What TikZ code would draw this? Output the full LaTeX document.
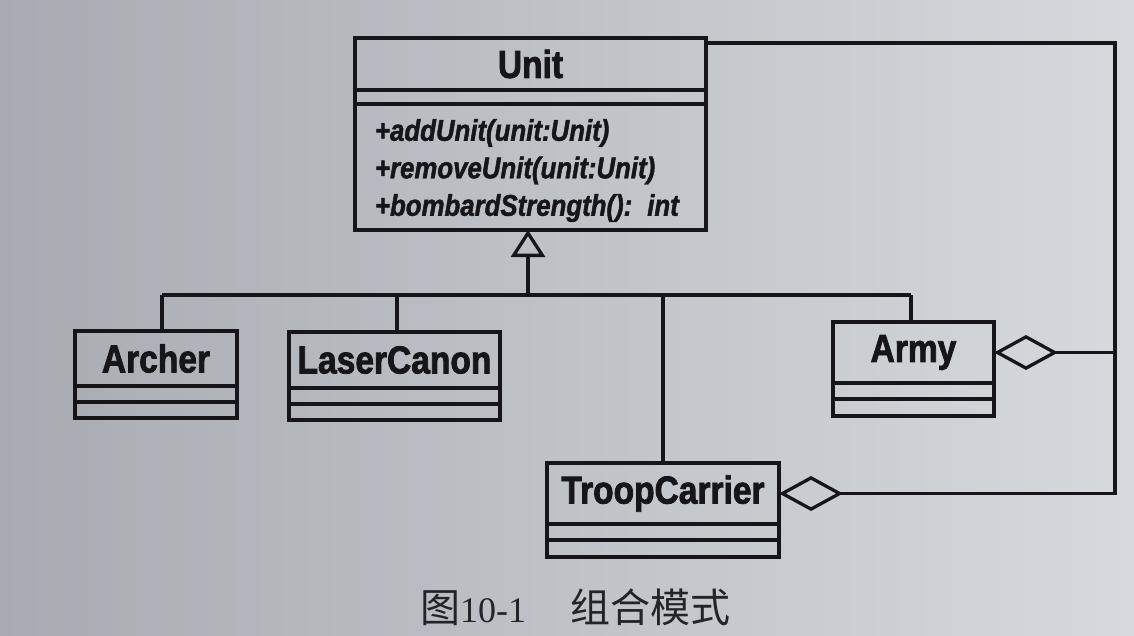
\documentclass[tikz,border=0pt]{standalone}
\usepackage{fontspec}
\usetikzlibrary{arrows.meta}
\newfontfamily\clsfont[FakeStretch=0.86, BoldFeatures={FakeBold=2}, BoldItalicFeatures={FakeBold=1.5}]{Liberation Sans}
\newfontfamily\cjkfont{Noto Sans CJK SC}
\newfontfamily\capserif{Liberation Serif}
\definecolor{ink}{RGB}{22,22,26}
\definecolor{capink}{RGB}{35,35,40}
\definecolor{bgL}{RGB}{168,172,178}
\definecolor{bgR}{RGB}{214,218,223}
\begin{document}
\begin{tikzpicture}[x=1pt,y=-1pt,
  part/.style={draw=ink, line width=3.3pt, anchor=north west, inner sep=0pt, outer sep=0pt},
  cname/.style={font=\clsfont\bfseries\fontsize{39}{41}\selectfont, text=ink},
  meth/.style={font=\clsfont\bfseries\itshape\fontsize{30}{37.5}\selectfont, text=ink},
  conn/.style={draw=ink, line width=3.3pt},
  gen/.style={-{Triangle[open, length=27pt, width=34pt]}},
  agg/.style={{Diamond[open, length=64pt, width=35pt]}-},
]
\useasboundingbox (0,0) rectangle (1134,635);
\shade[left color=bgL, right color=bgR] (0,0) rectangle (1134,635);

% Unit
\node[part, minimum width=351pt, minimum height=52pt, cname] (unitN) at (355,38) {Unit};
\node[part, minimum width=351pt, minimum height=14pt] (unitA) at (355,90) {};
\node[part, minimum width=351pt, minimum height=126pt, meth, text width=311pt, inner xsep=20pt, align=left] (unitO) at (355,104)
  {+addUnit(unit:Unit)\\+removeUnit(unit:Unit)\\+bombardStrength(): int\par\vspace{-7pt}};

% Archer
\node[part, minimum width=162pt, minimum height=55pt, cname] (archerN) at (75,331) {Archer};
\node[part, minimum width=162pt, minimum height=16pt] (archerA) at (75,386) {};
\node[part, minimum width=162pt, minimum height=16pt] (archerO) at (75,402) {};

% LaserCanon
\node[part, minimum width=211pt, minimum height=56pt, cname] (laserN) at (289,332) {LaserCanon};
\node[part, minimum width=211pt, minimum height=16pt] (laserA) at (289,388) {};
\node[part, minimum width=211pt, minimum height=16pt] (laserO) at (289,404) {};

% Army
\node[part, minimum width=161pt, minimum height=61pt, cname] (armyN) at (833,322) {Army};
\node[part, minimum width=161pt, minimum height=16pt] (armyA) at (833,383) {};
\node[part, minimum width=161pt, minimum height=17pt] (armyO) at (833,399) {};

% TroopCarrier
\node[part, minimum width=232pt, minimum height=61pt, cname] (troopN) at (547,463) {TroopCarrier};
\node[part, minimum width=232pt, minimum height=16pt] (troopA) at (547,524) {};
\node[part, minimum width=232pt, minimum height=17pt] (troopO) at (547,540) {};

% generalization bus
\coordinate (busA) at (162,295);
\coordinate (busL) at (397,295);
\coordinate (busT) at (528,295);
\coordinate (busC) at (663,295);
\coordinate (busR) at (911,295);
\draw[conn] (busA) -- (busR);
\draw[conn] (busA) -- (busA |- archerN.north);
\draw[conn] (busL) -- (busL |- laserN.north);
\draw[conn] (busC) -- (busC |- troopN.north);
\draw[conn] (busR) -- (busR |- armyN.north);
\draw[conn, gen] (busT) -- (busT |- unitO.south);

% aggregation
\coordinate (uTop) at (706,43);
\coordinate (cTR) at (1115,43);
\draw[conn, agg] (troopN.east) -- (troopN.east -| cTR) -- (cTR) -- (uTop);
\draw[conn, agg] (armyN.east) -- (armyN.east -| cTR);

% caption
\node[text=capink] (cap) at (575,607) {\cjkfont\fontsize{40}{44}\selectfont 图{\capserif\fontsize{36}{40}\selectfont 10-1}\hspace{44pt}组合模式};
\end{tikzpicture}
\end{document}
